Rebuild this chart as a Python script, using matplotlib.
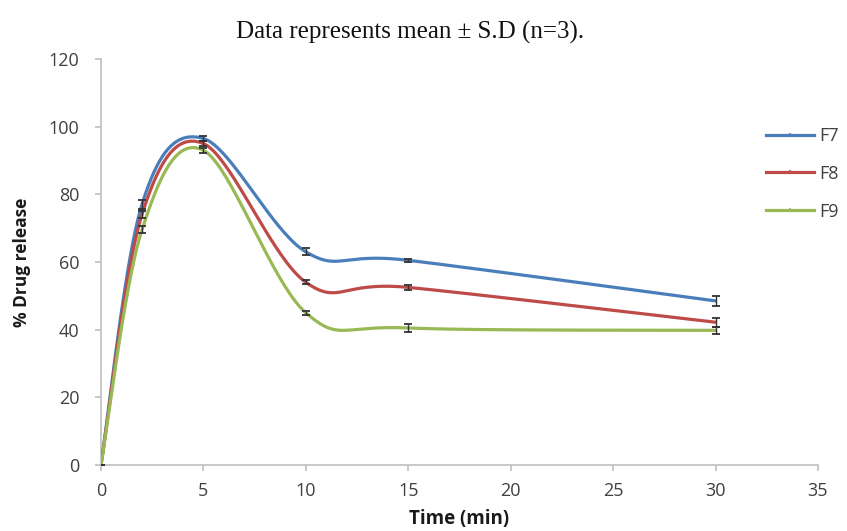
import numpy as np
import matplotlib
matplotlib.use("Agg")
import matplotlib.pyplot as plt
from matplotlib.lines import Line2D

time = [0, 2, 5, 10, 15, 30]
f7 = [0, 77.0, 96.5, 63.0, 60.5, 48.5]
f8 = [0, 74.0, 95.0, 54.0, 52.5, 42.2]
f9 = [0, 69.5, 93.0, 45.0, 40.5, 39.8]
f7_sd = [0, 1.2, 0.8, 1.0, 0.4, 1.5]
f8_sd = [0, 1.0, 0.8, 0.6, 0.8, 1.3]
f9_sd = [0, 1.0, 0.8, 0.6, 1.2, 1.0]
series_names = ["F7", "F8", "F9"]
colors = ["#4A7EBB", "#BE4B48", "#98B954"]


def excel_smooth(x, y, n=40):
    x = np.asarray(x, float)
    y = np.asarray(y, float)
    px, py = [], []
    m = len(x)
    for i in range(m - 1):
        p0 = (x[i - 1], y[i - 1]) if i > 0 else (x[i], y[i])
        p1 = (x[i], y[i])
        p2 = (x[i + 1], y[i + 1])
        p3 = (x[i + 2], y[i + 2]) if i + 2 < m else (x[i + 1], y[i + 1])
        c1 = (p1[0] + (p2[0] - p0[0]) / 6, p1[1] + (p2[1] - p0[1]) / 6)
        c2 = (p2[0] - (p3[0] - p1[0]) / 6, p2[1] - (p3[1] - p1[1]) / 6)
        t = np.linspace(0, 1, n)
        bx = (1 - t) ** 3 * p1[0] + 3 * (1 - t) ** 2 * t * c1[0] + 3 * (1 - t) * t ** 2 * c2[0] + t ** 3 * p2[0]
        by = (1 - t) ** 3 * p1[1] + 3 * (1 - t) ** 2 * t * c1[1] + 3 * (1 - t) * t ** 2 * c2[1] + t ** 3 * p2[1]
        px.extend(bx)
        py.extend(by)
    return np.array(px), np.array(py)


fig = plt.figure(figsize=(8.47, 5.31), dpi=100)
ax = fig.add_axes([0.1192, 0.1243, 0.8465, 0.7646])

handles = []
for name, vals, sd, c in zip(series_names, [f7, f8, f9], [f7_sd, f8_sd, f9_sd], colors):
    sx, sy = excel_smooth(time, vals)
    ax.plot(sx, sy, color=c, lw=2.3, solid_capstyle="round", zorder=3)
    ax.errorbar(time, vals, yerr=sd, fmt="none", ecolor="#333333", elinewidth=1.0,
                capsize=3, capthick=1.3, zorder=4)
    handles.append(Line2D([0], [0], color=c, lw=2.3, marker="|", markersize=3,
                          markeredgewidth=1.2, markeredgecolor=c))

ax.set_xlim(0, 35)
ax.set_ylim(0, 120)
ax.set_xticks(range(0, 36, 5))
ax.set_yticks(range(0, 121, 20))
for s in ["top", "right"]:
    ax.spines[s].set_visible(False)
for s in ["left", "bottom"]:
    ax.spines[s].set_color("#BFBFBF")
    ax.spines[s].set_linewidth(1.2)
ax.tick_params(axis="both", direction="out", color="#BFBFBF", length=4.5, width=1.2,
               labelsize=13, labelcolor="#404040")
ax.tick_params(axis="y", pad=11)
ax.tick_params(axis="x", pad=8)
for lab in ax.get_xticklabels() + ax.get_yticklabels():
    lab.set_family("Open Sans")
ax.set_xlabel("Time (min)", fontsize=13.5, fontweight="bold", family="Open Sans", color="#1a1a1a")
ax.set_ylabel("% Drug release", fontsize=12.5, fontweight="bold", family="Open Sans", color="#1a1a1a")
ax.xaxis.set_label_coords(0.5, -0.108)
ax.yaxis.set_label_coords(-0.097, 0.5)

fig.text(0.484, 0.938, "Data represents mean \u00b1 S.D (n=3).", ha="center", va="center",
         fontsize=18, family="Liberation Serif", color="#111111")

leg = fig.legend(handles, series_names, loc="upper left", bbox_to_anchor=(0.904, 0.761),
                 frameon=False, handlelength=2.7, labelspacing=1.1, borderpad=0,
                 borderaxespad=0, handletextpad=0.28,
                 prop={"family": "Open Sans", "size": 13})
for t in leg.get_texts():
    t.set_color("#404040")

fig.savefig("out.png", dpi=100)
